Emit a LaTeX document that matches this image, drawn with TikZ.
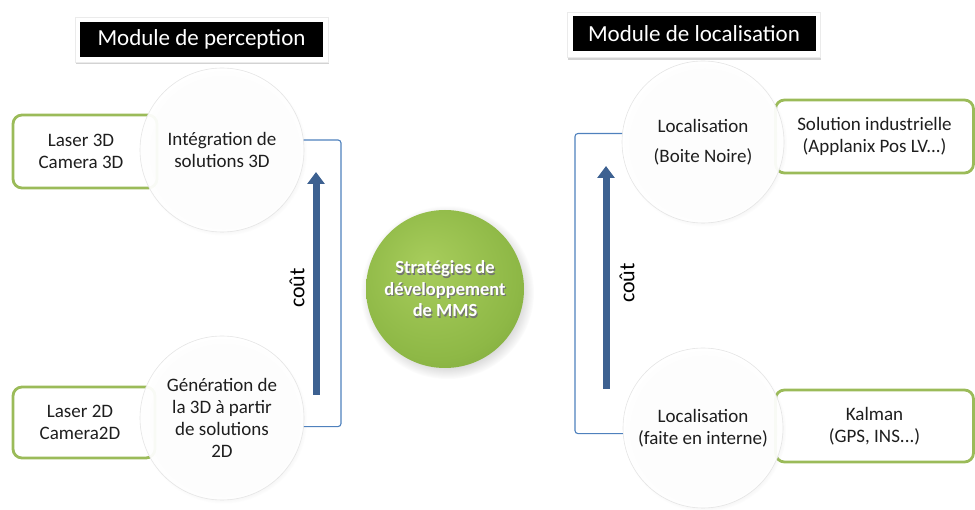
\documentclass[tikz,border=0pt]{standalone}
\usepackage{fontspec}
\setmainfont{Carlito}
\usetikzlibrary{arrows.meta,shadows,calc}
\definecolor{gborder}{HTML}{9BBB59}
\definecolor{bline}{HTML}{4F81BD}
\definecolor{barrow}{HTML}{3D6191}
\definecolor{gball1}{HTML}{A8CD5C}
\definecolor{gball2}{HTML}{8EB846}
\definecolor{gball3}{HTML}{6A9430}
\definecolor{txt}{HTML}{1E1E1E}
\pgfdeclareradialshading{bubble}{\pgfpoint{0bp}{0bp}}{color(0bp)=(white); color(40bp)=(white); color(47bp)=(black!5); color(50bp)=(black!16)}
\pgfdeclareradialshading{greenball}{\pgfpoint{-6bp}{8bp}}{color(0bp)=(gball1); color(26bp)=(gball2); color(50bp)=(gball3)}
\tikzset{
  mainfont/.style={font=\fontsize{19}{22}\selectfont, text=txt},
  bubblenode/.style={circle, minimum size=164pt, inner sep=0pt, shading=bubble, fill opacity=0.94, text opacity=1, draw=black!10, line width=0.6pt, align=center, mainfont,
    circular drop shadow={shadow xshift=1.5pt, shadow yshift=-2pt, opacity=0.18, shadow scale=1.02}},
  gbox/.style={draw=gborder, line width=2.8pt, rounded corners=9pt, fill=white, align=center, mainfont, inner sep=0pt},
  titleframe/.style={fill=white, draw=black!8, minimum width=253pt, minimum height=45pt, inner sep=0pt,
    drop shadow={shadow xshift=1pt, shadow yshift=-2.5pt, opacity=0.35}},
  titlebox/.style={fill=black, minimum width=243pt, minimum height=35pt, inner sep=0pt, text=white, font=\fontsize{23}{25}\selectfont},
  bracket/.style={draw=bline, line width=1.1pt, rounded corners=3pt},
  costarrow/.style={draw=barrow, line width=7pt, -{Triangle[width=17pt,length=12pt]}},
  costlabel/.style={rotate=90, font=\fontsize{22}{24}\selectfont, text=black},
}
\begin{document}
\begin{tikzpicture}[x=1pt,y=1pt]
\useasboundingbox (0,0) rectangle (975,-510);

% title boxes
\node[titleframe] (tf1) at (201.5,-39.5) {};
\node[titlebox] (t1) at (201.5,-39.5) {Module de perception};
\node[titleframe] (tf2) at (693.5,-35) {};
\node[titlebox] (t2) at (694,-33.5) {Module de localisation};

% green boxes
\node[gbox, minimum width=144pt, minimum height=73pt] (b1) at (85,-151.5) {\hspace*{-8pt}Laser 3D\\\hspace*{-8pt}Camera 3D};
\node[gbox, minimum width=142pt, minimum height=71pt] (b2) at (84,-422.5) {\hspace*{-8pt}Laser 2D\\\hspace*{-8pt}Camera2D};
\node[gbox, minimum width=198pt, minimum height=73pt] (b3) at (874.5,-136.5) {Solution industrielle\\(Applanix Pos LV...)};
\node[gbox, minimum width=198pt, minimum height=72pt] (b4) at (874.5,-426) {Kalman\\(GPS, INS...)};

% circles
\node[bubblenode] (c1) at (222,-150) {Intégration de\\solutions 3D};
\node[bubblenode] (c2) at (222,-418) {Génération de\\la 3D à partir\\de solutions\\2D};
\node[bubblenode, minimum size=162pt] (c3) at (703,-142) {Localisation\\[8pt](Boite Noire)};
\node[bubblenode, minimum size=160pt] (c4) at (703,-428) {Localisation\\(faite en interne)};

% centre
\node[circle, minimum size=158pt, inner sep=0pt, shading=greenball,
  circular drop shadow={shadow xshift=2pt, shadow yshift=-3pt, opacity=0.3}] (mms) at (445,-289) {};
\node[align=center, text=black!55, font=\bfseries\fontsize{18.5}{21.5}\selectfont] at ($(mms)+(1.2,-1.2)$) {Stratégies de\\développement\\de MMS};
\node[align=center, text=white, font=\bfseries\fontsize{18.5}{21.5}\selectfont] (mmstext) at (mms) {Stratégies de\\développement\\de MMS};

% brackets
\coordinate (bl) at (341,0);
\coordinate (br) at (575,0);
\draw[bracket] (c1.7) -- (c1.7 -| bl) -- (c2.-6 -| bl) -- (c2.-6);
\draw[bracket] (c3.174) -- (c3.174 -| br) -- (c4.184 -| br) -- (c4.184);

% cost arrows
\coordinate (la0) at (316,-395);
\coordinate (la1) at (316,-172);
\coordinate (ra0) at (606,-389);
\coordinate (ra1) at (606,-166);
\draw[costarrow] (la0) -- (la1);
\draw[costarrow] (ra0) -- (ra1);
\node[costlabel] (cl) at (297,-288) {coût};
\node[costlabel] (cr) at (627,-283) {coût};
\end{tikzpicture}
\end{document}
